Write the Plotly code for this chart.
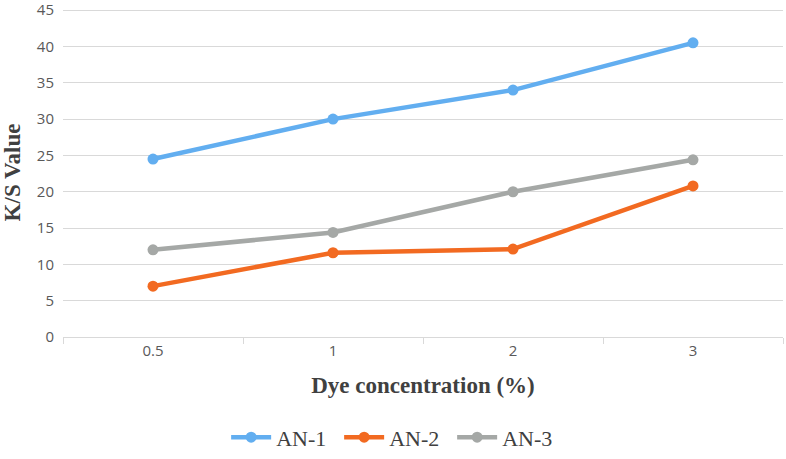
import plotly.graph_objects as go

categories = ["0.5", "1", "2", "3"]
an1 = [24.5, 30.0, 34.0, 40.5]
an2 = [7.0, 11.6, 12.1, 20.8]
an3 = [12.0, 14.4, 20.0, 24.4]
series_names = ["AN-1", "AN-2", "AN-3"]
colors = ["#62AEF0", "#F26A21", "#A5A8A6"]
y_ticks = [0, 5, 10, 15, 20, 25, 30, 35, 40, 45]

fig = go.Figure()
for name, vals, col in zip(series_names, [an1, an2, an3], colors):
    fig.add_trace(go.Scatter(
        x=categories, y=vals, name=name, mode="lines+markers",
        line=dict(color=col, width=4.5),
        marker=dict(color=col, size=11),
    ))

fig.update_layout(
    width=786, height=459,
    margin=dict(l=63, r=3, t=8, b=122, autoexpand=False),
    paper_bgcolor="white", plot_bgcolor="white",
    showlegend=True,
    legend=dict(orientation="h", x=0.462, xanchor="center", y=-0.305, yanchor="middle",
                font=dict(family="Liberation Serif", size=22, color="#404040"),
                entrywidth=58, entrywidthmode="pixels",
                itemwidth=40, tracegroupgap=0),
    font=dict(family="Open Sans", color="#595959"),
)
fig.update_xaxes(
    type="category", range=[-0.5, 3.5], automargin=False,
    showgrid=False, showline=True, linecolor="#D9D9D9", linewidth=1,
    ticks="outside", ticklen=6, tickcolor="#D9D9D9", tickson="boundaries",
    tickfont=dict(family="Open Sans", size=15, color="#595959"),
    title=dict(text="<b>Dye concentration (%)</b>", standoff=17,
               font=dict(family="Liberation Serif", size=23, color="#404040")),
)
fig.update_yaxes(
    range=[0, 45.3], tickvals=y_ticks, showgrid=True, gridcolor="#D9D9D9", gridwidth=1,
    zeroline=False, showline=False, automargin=False, ticklabeloverflow="allow",
    tickfont=dict(family="Open Sans", size=15, color="#595959"),
    ticklabelstandoff=8,
    title=dict(text="<b>K/S Value</b>", standoff=12,
               font=dict(family="Liberation Serif", size=23, color="#404040")),
)

fig.write_html("out.html", config={"displayModeBar": False},
               post_script="document.body.style.margin='0';document.body.style.padding='0';")
